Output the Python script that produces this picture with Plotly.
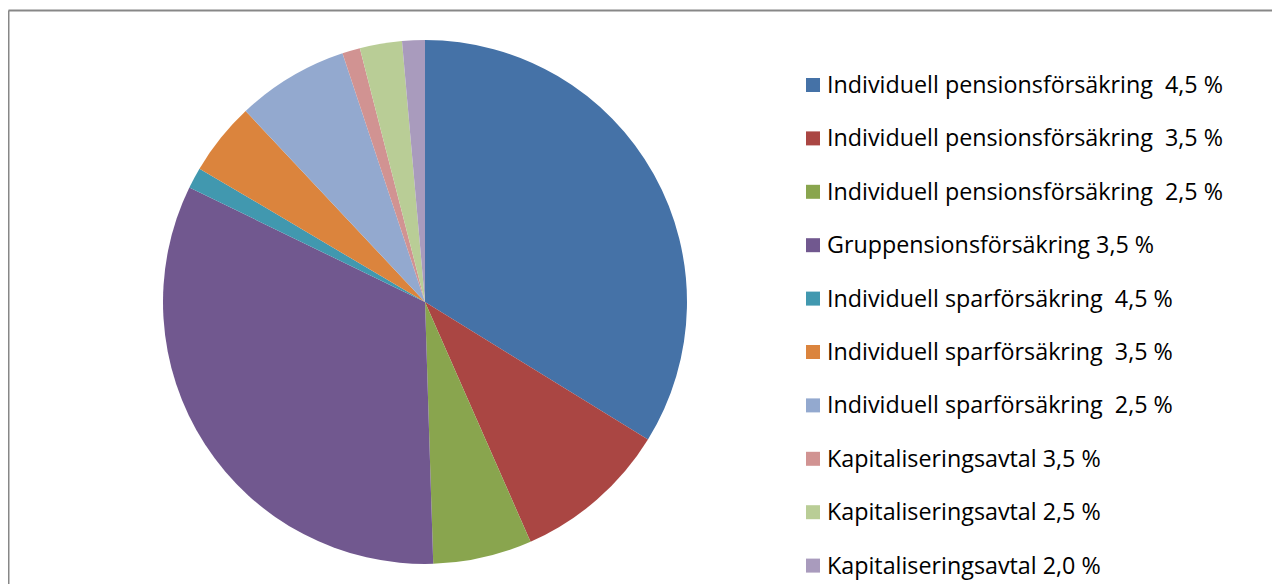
import plotly.graph_objects as go

labels = [
    "Individuell pensionsförsäkring \u00a04,5 %",
    "Individuell pensionsförsäkring \u00a03,5 %",
    "Individuell pensionsförsäkring \u00a02,5 %",
    "Gruppensionsförsäkring 3,5 %",
    "Individuell sparförsäkring \u00a04,5 %",
    "Individuell sparförsäkring \u00a03,5 %",
    "Individuell sparförsäkring \u00a02,5 %",
    "Kapitaliseringsavtal 3,5 %",
    "Kapitaliseringsavtal 2,5 %",
    "Kapitaliseringsavtal 2,0 %",
]
values = [33.8, 9.6, 6.1, 32.7, 1.3, 4.5, 6.9, 1.1, 2.6, 1.4]
colors = ["#4572A7", "#AA4643", "#89A54E", "#71588F", "#4198AF",
          "#DB843D", "#93A9CF", "#D19392", "#B9CD96", "#A99BBD"]

W, H = 1280, 584
OFF = 8  # page body margin offset
cx, cy, r = 425 - OFF, 302 - OFF, 262

fig = go.Figure(go.Pie(
    labels=labels, values=values, sort=False, direction="clockwise",
    rotation=0, textinfo="none", hoverinfo="label+percent",
    marker=dict(colors=colors, line=dict(width=0)),
    domain=dict(x=[(cx - r) / W, (cx + r) / W], y=[(H - cy - r) / H, (H - cy + r) / H]),
    showlegend=False,
))

bx, by = 8.5 - OFF, 10.5 - OFF
shapes = [
    dict(type="line", xref="paper", yref="paper", x0=bx / W, x1=bx / W, y0=0, y1=(H - by) / H,
         line=dict(color="#878787", width=2)),
    dict(type="line", xref="paper", yref="paper", x0=bx / W, x1=1, y0=(H - by) / H, y1=(H - by) / H,
         line=dict(color="#878787", width=2)),
]
annotations = []
y0, dy = 85 - OFF, 53.4
for i, (lab, col) in enumerate(zip(labels, colors)):
    yc = y0 + i * dy
    shapes.append(dict(type="rect", xref="paper", yref="paper",
                       x0=(806 - OFF) / W, x1=(820 - OFF) / W, y0=(H - yc - 7) / H, y1=(H - yc + 7) / H,
                       fillcolor=col, line=dict(width=0)))
    annotations.append(dict(xref="paper", yref="paper", x=(825 - OFF) / W, y=(H - yc + 1) / H,
                            xanchor="left", yanchor="middle", text=lab, showarrow=False,
                            font=dict(family="Open Sans", size=23.3, color="#000000")))

fig.update_layout(
    width=W, height=H, margin=dict(l=0, r=0, t=0, b=0),
    paper_bgcolor="white", plot_bgcolor="white",
    shapes=shapes, annotations=annotations,
)
fig.write_html("out.html")
